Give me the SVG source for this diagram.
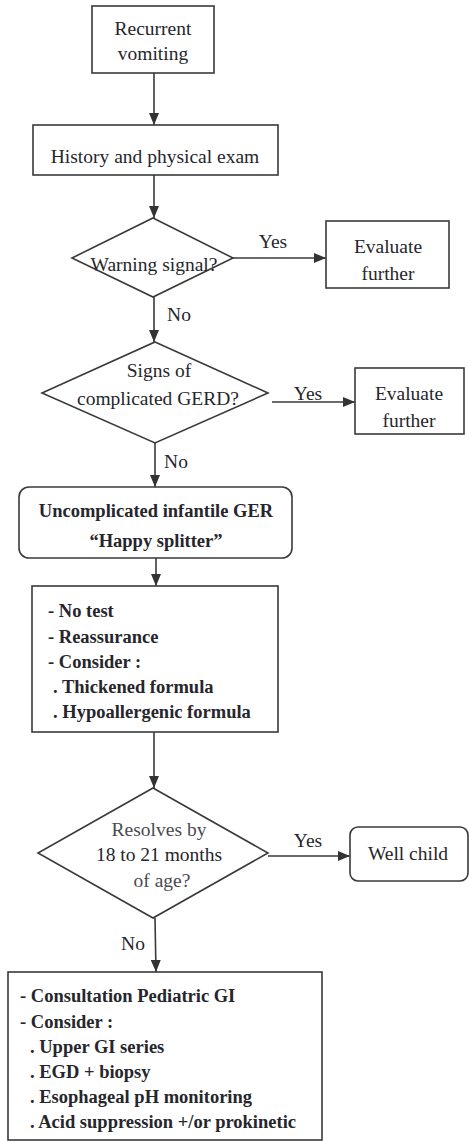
<svg xmlns="http://www.w3.org/2000/svg" width="469" height="1141" viewBox="0 0 469 1141">
<style>
.bx{fill:#fff;stroke:#3a3a3a;stroke-width:1.6}
.ln{fill:none;stroke:#3a3a3a;stroke-width:1.6}
.t{font-family:"Liberation Serif","Times New Roman",serif;font-size:19.5px;fill:#26262c}
.c{text-anchor:middle}
.b{font-weight:bold;font-size:18.5px}
.g{fill:#4a4a50}
</style>
<defs>
<marker id="ah" viewBox="0 0 12 10" refX="12" refY="5" markerWidth="12" markerHeight="10" markerUnits="userSpaceOnUse" orient="auto">
<path d="M0,0 L12,5 L0,10 Z" fill="#333"/>
</marker>
</defs>
<rect width="469" height="1141" fill="#fff"/>
<g id="connectors">
<line class="ln" x1="154" y1="73" x2="154" y2="125" marker-end="url(#ah)"/>
<line class="ln" x1="154" y1="175" x2="154" y2="218" marker-end="url(#ah)"/>
<line class="ln" x1="233" y1="258" x2="326" y2="258" marker-end="url(#ah)"/>
<text class="t c" x="273" y="248">Yes</text>
<line class="ln" x1="154" y1="297" x2="154" y2="342" marker-end="url(#ah)"/>
<text class="t c" x="179" y="321">No</text>
<line class="ln" x1="272" y1="402" x2="355" y2="402" marker-end="url(#ah)"/>
<text class="t c" x="308" y="400">Yes</text>
<line class="ln" x1="155" y1="443" x2="155" y2="487" marker-end="url(#ah)"/>
<text class="t c" x="176" y="468">No</text>
<line class="ln" x1="156" y1="558" x2="156" y2="586" marker-end="url(#ah)"/>
<line class="ln" x1="154" y1="732" x2="154" y2="788" marker-end="url(#ah)"/>
<line class="ln" x1="268" y1="856" x2="350" y2="856" marker-end="url(#ah)"/>
<text class="t c" x="308" y="847">Yes</text>
<line class="ln" x1="155" y1="918" x2="156" y2="972" marker-end="url(#ah)"/>
<text class="t c" x="133" y="950">No</text>
</g>
<g id="n1">
<rect class="bx" x="92" y="6" width="122" height="67"/>
<text class="t c" x="153" y="35">Recurrent</text>
<text class="t c" x="153" y="60">vomiting</text>
</g>
<g id="n2">
<rect class="bx" x="33" y="125" width="245" height="50"/>
<text class="t c" x="155" y="163">History and physical exam</text>
</g>
<g id="d1">
<polygon class="bx" points="153,218 233,258 153,297 72,258"/>
<text class="t c" x="154" y="271">Warning signal?</text>
</g>
<g id="e1">
<rect class="bx" x="326" y="221" width="123" height="67"/>
<text class="t c" x="388" y="253">Evaluate</text>
<text class="t c" x="388" y="280">further</text>
</g>
<g id="d2">
<polygon class="bx" points="155,342 268,393 155,443 42,393"/>
<text class="t c" x="159" y="377">Signs of</text>
<text class="t c" x="158" y="405">complicated GERD?</text>
</g>
<g id="e2">
<rect class="bx" x="355" y="368" width="109" height="66"/>
<text class="t c" x="409" y="400">Evaluate</text>
<text class="t c" x="409" y="427">further</text>
</g>
<g id="n3">
<rect class="bx" x="19" y="487" width="273" height="71" rx="10"/>
<text class="t b c" x="156" y="517">Uncomplicated infantile  GER</text>
<text class="t b c" x="156" y="547">“Happy splitter”</text>
</g>
<g id="n4">
<rect class="bx" x="32" y="586" width="246" height="146"/>
<text class="t b" x="48" y="617">- No test</text>
<text class="t b" x="48" y="643">- Reassurance</text>
<text class="t b" x="48" y="668">- Consider :</text>
<text class="t b" x="53" y="693">. Thickened formula</text>
<text class="t b" x="53" y="718">. Hypoallergenic formula</text>
</g>
<g id="d3">
<polygon class="bx" points="153,788 268,853 153,918 38,853"/>
<text class="t c g" x="159" y="836">Resolves by</text>
<text class="t c" x="159" y="861">18 to 21 months</text>
<text class="t c g" x="162" y="887">of age?</text>
</g>
<g id="n5">
<rect class="bx" x="350" y="827" width="118" height="54" rx="8"/>
<text class="t c" x="408" y="860">Well child</text>
</g>
<g id="n6">
<rect class="bx" x="8" y="972" width="314" height="168"/>
<text class="t b" x="20" y="1002">- Consultation Pediatric GI</text>
<text class="t b" x="20" y="1028">- Consider :</text>
<text class="t b" x="30" y="1053">. Upper GI series</text>
<text class="t b" x="30" y="1078">.  EGD + biopsy</text>
<text class="t b" x="30" y="1103">. Esophageal pH monitoring</text>
<text class="t b" x="30" y="1128">. Acid suppression +/or prokinetic</text>
</g>
</svg>
